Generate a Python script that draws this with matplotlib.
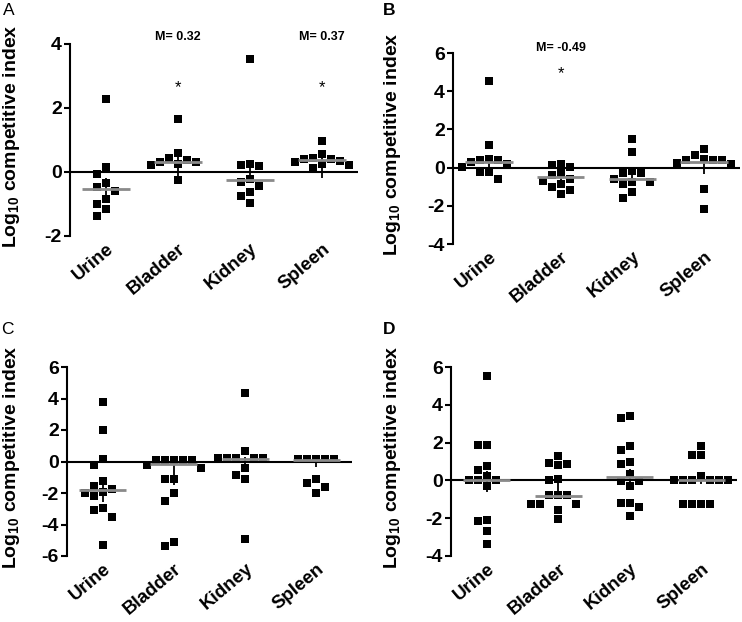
import numpy as np
import matplotlib
matplotlib.use("Agg")
import matplotlib.pyplot as plt

plt.rcParams["font.family"] = ["Liberation Sans", "DejaVu Sans"]
plt.rcParams["axes.unicode_minus"] = False
plt.rcParams["mathtext.fontset"] = "custom"
plt.rcParams["mathtext.rm"] = "Liberation Sans:bold"
plt.rcParams["mathtext.bf"] = "Liberation Sans:bold"
plt.rcParams["mathtext.default"] = "rm"

organs = ["Urine", "Bladder", "Kidney", "Spleen"]

# panel A
a_urine = [2.29, 0.17, -0.06, -0.35, -0.46, -0.59, -0.85, -1.0, -1.16, -1.37]
a_bladder = [1.67, 0.58, 0.45, 0.38, 0.32, 0.3, 0.25, 0.22, -0.25]
a_kidney = [3.52, 0.25, 0.22, 0.2, -0.22, -0.3, -0.44, -0.61, -0.75, -0.97]
a_spleen = [0.98, 0.55, 0.45, 0.41, 0.41, 0.35, 0.3, 0.25, 0.22, 0.12]
a_median = [-0.52, 0.32, -0.24, 0.37]
a_err_lo = [-0.85, -0.15, -0.35, -0.2]
a_err_hi = [-0.2, 0.55, 0.15, 0.5]

# panel B
b_urine = [4.55, 1.17, 0.45, 0.42, 0.4, 0.3, 0.2, 0.05, -0.23, -0.23, -0.58]
b_bladder = [0.2, 0.12, 0.05, -0.3, -0.4, -0.58, -0.7, -0.85, -1.0, -1.15, -1.37]
b_kidney = [1.52, 0.82, -0.2, -0.3, -0.3, -0.6, -0.75, -0.75, -0.85, -1.27, -1.57]
b_spleen = [0.99, 0.64, 0.45, 0.42, 0.42, 0.4, 0.22, 0.2, -1.14, -2.18]
b_median = [0.3, -0.49, -0.58, 0.29]
b_err_lo = [-0.3, -0.9, -0.9, -0.35]
b_err_hi = [0.6, -0.05, 0.0, 0.5]

# panel C
c_urine = [3.77, 2.01, 0.17, -0.25, -1.21, -1.55, -1.75, -1.95, -2.0, -2.2,
           -2.95, -3.1, -3.5, -5.3]
c_bladder = [0.12, 0.12, 0.12, 0.12, 0.12, -0.21, -0.4, -1.12, -1.12, -2.0,
             -2.5, -5.13, -5.36]
c_kidney = [4.34, 0.64, 0.2, 0.2, 0.2, 0.2, 0.2, -0.42, -0.85, -1.12, -4.94]
c_spleen = [0.15, 0.15, 0.15, 0.15, 0.15, -1.12, -1.38, -1.59, -2.0]
c_median = [-1.8, -0.15, 0.17, 0.1]
c_err_lo = [-2.6, -1.5, -0.3, -0.35]
c_err_hi = [-1.0, 0.1, 0.3, 0.2]

# panel D
d_urine = [5.5, 1.89, 1.89, 0.78, 0.57, 0.25, 0.0, 0.0, 0.0, -0.32, -2.12,
           -2.17, -2.7, -3.39]
d_bladder = [1.3, 0.9, 0.86, 0.8, 0.1, 0.0, -0.76, -0.76, -0.76, -1.23, -1.23,
             -1.23, -1.55, -2.03]
d_kidney = [3.39, 3.3, 1.84, 1.62, 1.0, 0.86, 0.34, -0.05, -0.05, -0.32, -1.2,
            -1.2, -1.4, -1.9]
d_spleen = [1.83, 1.32, 1.32, 0.21, 0, 0, 0, 0, 0, 0, -1.25, -1.25, -1.25, -1.25]
d_median = [0.0, -0.85, 0.16, 0.0]
d_err_lo = [-0.6, -0.85, -0.4, -0.2]
d_err_hi = [0.5, -0.05, 0.6, 0.2]

panels = [
    ("A", [a_urine, a_bladder, a_kidney, a_spleen], a_median, a_err_lo, a_err_hi,
     (-2, 4), [-2, 0, 2, 4], {1: "M= 0.32", 3: "M= 0.37"}, [1, 3], 2.65, 4.23),
    ("B", [b_urine, b_bladder, b_kidney, b_spleen], b_median, b_err_lo, b_err_hi,
     (-4, 6), [-4, -2, 0, 2, 4, 6], {1: "M= -0.49"}, [1], 4.9, 6.27),
    ("C", [c_urine, c_bladder, c_kidney, c_spleen], c_median, c_err_lo, c_err_hi,
     (-6, 6), [-6, -4, -2, 0, 2, 4, 6], {}, [], None, None),
    ("D", [d_urine, d_bladder, d_kidney, d_spleen], d_median, d_err_lo, d_err_hi,
     (-4, 6), [-4, -2, 0, 2, 4, 6], {}, [], None, None),
]

# axes boxes in pixels (left, top, right, bottom) on a 742x622 canvas
boxes = [(70, 44, 358, 236), (453, 53, 740, 244), (67, 367, 352, 556), (451, 367, 737, 556)]
label_pos = [(3, 3, "normal"), (383, 3, "bold"), (1, 322, "normal"), (383, 322, "bold")]
ylabel_x = [22, 403, 22, 403]

W, H = 742, 622
fig = plt.figure(figsize=(W / 100, H / 100), dpi=100)

GAP_PX = 9.0  # minimum spacing between square centres


def swarm(vals_px, size):
    # beeswarm: each point goes to the x closest to the centre without overlap
    offs = np.zeros(len(vals_px))
    placed = []
    order = np.argsort(-np.asarray(vals_px, dtype=float), kind="stable")
    for i in order:
        y = vals_px[i]
        done = False
        for k in range(400):
            for x in ((0.0,) if k == 0 else (-0.5 * k, 0.5 * k)):
                if all(abs(x - px) >= size - 1e-9 or abs(y - py) >= size - 1e-9
                       for px, py in placed):
                    done = True
                    break
            if done:
                break
        placed.append((x, y))
        offs[i] = x
    return offs


for k, (name, groups, med, elo, ehi, ylim, yticks, mtext, stars, star_y, m_y) in enumerate(panels):
    l, t, r, b = boxes[k]
    ax = fig.add_axes([l / W, 1 - b / H, (r - l) / W, (b - t) / H])
    ax.set_xlim(-0.5, 3.5)
    ax.set_ylim(*ylim)

    ppu_y = (b - t) / (ylim[1] - ylim[0])
    ppu_x = (r - l) / 4.0

    ax.axhline(0, color="black", lw=1.5, zorder=1)
    for i, vals in enumerate(groups):
        offs = swarm([v * ppu_y for v in vals], GAP_PX)
        ax.vlines(i, elo[i], ehi[i], color="black", lw=1.3, zorder=2)
        ax.plot(i + offs / ppu_x, vals, "s", color="black", ms=6, mew=0,
                clip_on=False, zorder=3)
        ax.hlines(med[i], i - 0.33, i + 0.33, color="#8a8a8a", lw=2, zorder=4)

    for i, txt in mtext.items():
        ax.text(i, m_y, txt, ha="center", va="center", fontsize=9,
                fontweight="bold", clip_on=False)
    for i in stars:
        ax.text(i, star_y, "*", ha="center", va="center", fontsize=12)

    for side in ["top", "right", "bottom"]:
        ax.spines[side].set_visible(False)
    ax.spines["left"].set_linewidth(1.5)
    ax.set_yticks(yticks)
    ax.set_yticklabels([str(v) for v in yticks], fontsize=14, fontweight="bold")
    ax.tick_params(axis="y", length=4, width=1.5, pad=2)
    ax.set_xticks(range(4))
    ax.set_xticklabels(organs, fontsize=13.5, fontweight="bold", rotation=40,
                       ha="right", va="top", rotation_mode="anchor")
    ax.tick_params(axis="x", length=0, pad=3)

    ax.set_ylabel(r"Log$_{10}$ competitive index", fontsize=14, fontweight="bold")
    ax.yaxis.set_label_coords(ylabel_x[k] / W, 1 - ((t + b) / 2 - 4) / H,
                              transform=fig.transFigure)

    px, py, wt = label_pos[k]
    fig.text(px / W, 1 - py / H, name, ha="left", va="top", fontsize=12.5,
             fontweight=wt)

fig.savefig("out.png", dpi=100)
